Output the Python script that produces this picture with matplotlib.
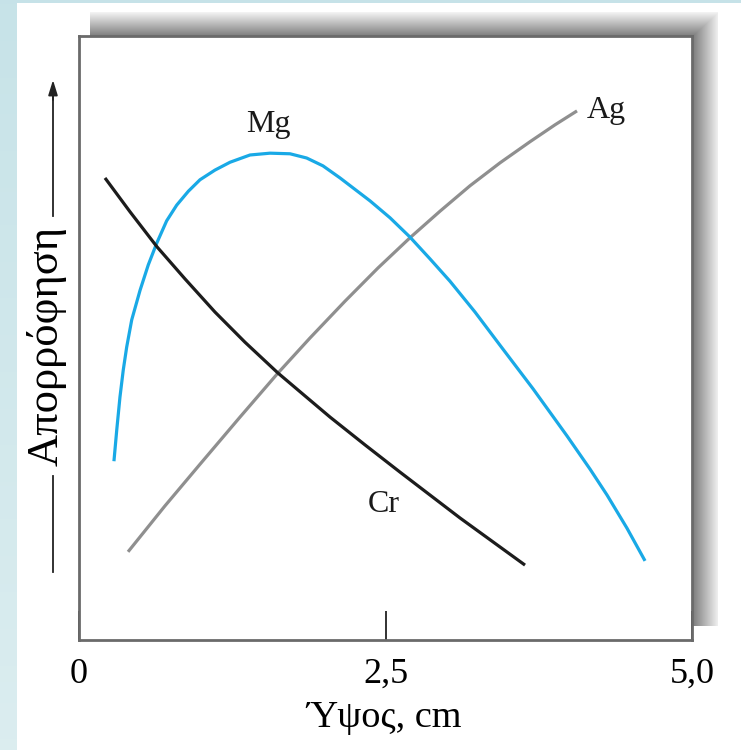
import numpy as np
import matplotlib
matplotlib.use("Agg")
import matplotlib.pyplot as plt
from matplotlib.lines import Line2D

# ---------------- data ----------------
mg_x = [0.285, 0.308, 0.334, 0.361, 0.389, 0.430, 0.498, 0.565, 0.634, 0.715,
        0.797, 0.892, 0.987, 1.109, 1.232, 1.395, 1.558, 1.721, 1.857, 1.990,
        2.129, 2.374, 2.537, 2.700, 2.863, 3.026, 3.230, 3.434, 3.703, 3.980,
        4.168, 4.307, 4.470, 4.617]
mg_y = [0.296, 0.348, 0.402, 0.447, 0.485, 0.530, 0.579, 0.621, 0.657, 0.694,
        0.720, 0.743, 0.762, 0.778, 0.791, 0.803, 0.806, 0.805, 0.798, 0.785,
        0.765, 0.727, 0.699, 0.667, 0.631, 0.594, 0.543, 0.488, 0.416, 0.338,
        0.283, 0.240, 0.185, 0.131]

cr_x = [0.212, 0.416, 0.636, 0.864, 1.109, 1.354, 1.623, 1.844, 2.048,
        2.333, 2.618, 3.108, 3.638]
cr_y = [0.765, 0.709, 0.651, 0.598, 0.543, 0.493, 0.442, 0.404, 0.369,
        0.323, 0.278, 0.202, 0.124]

ag_x = [0.400, 0.701, 0.987, 1.313, 1.623, 1.884, 2.170, 2.439, 2.700,
        2.945, 3.189, 3.434, 3.679, 3.883, 4.062]
ag_y = [0.146, 0.222, 0.291, 0.369, 0.442, 0.500, 0.561, 0.616, 0.666,
        0.710, 0.752, 0.790, 0.825, 0.853, 0.876]

xticks = [0.0, 2.5, 5.0]
xtick_labels = ["0", "2,5", "5,0"]
xlabel = "Ύψος, cm"
ylabel = "Απορρόφηση"

# ---------------- figure ----------------
W, H = 741, 750
fig = plt.figure(figsize=(W / 100, H / 100), dpi=100)
fig.patch.set_facecolor("white")

def fx(px):
    return px / W

def fy(py):
    return 1 - py / H

# background decoration: blue edge strips + drop shadow
img = np.ones((H, W, 3))
yy, xx = np.mgrid[0:H, 0:W]
strip_top = np.array([0.78, 0.89, 0.91])
strip_bot = np.array([0.86, 0.93, 0.94])
t = (yy[:, :17] / H)[..., None]
img[:, :17] = strip_top * (1 - t) + strip_bot * t
img[:3, :] = strip_top
L, T, R, B = 79, 36, 692, 640
sL, sT, sR, sB = 90, 12, 718, 626
in_sh = (xx >= sL) & (xx < sR) & (yy >= sT) & (yy < sB)
dx = np.clip((xx - R) / (sR - R), 0, 1)
dy = np.clip((T - yy) / (T - sT), 0, 1)
d = np.maximum(dx, dy)
shade = 0.48 + 0.47 * d
mask = in_sh & ~((xx < R) & (yy >= T))
for c in range(3):
    ch = img[..., c]
    ch[mask] = shade[mask]
bg = fig.add_axes([0, 0, 1, 1], zorder=-5)
bg.imshow(img, extent=(0, W, H, 0), aspect="auto", interpolation="bilinear")
bg.set_xlim(0, W)
bg.set_ylim(H, 0)
bg.axis("off")

ax = fig.add_axes([fx(L), fy(B), fx(R) - fx(L), fy(T) - fy(B)], zorder=1)
ax.set_facecolor("white")

serif = ["Liberation Serif", "DejaVu Serif"]

kw = dict(lw=2.3, solid_capstyle="butt", solid_joinstyle="round")
ax.plot(mg_x, mg_y, color="#19a9e6", zorder=3, **kw)
ax.plot(cr_x, cr_y, color="#1c1c1c", zorder=4, **kw)
ax.plot(ag_x, ag_y, color="#8f8f8f", zorder=2, **kw)

ax.text(1.542, 0.853, "Mg", fontsize=23, family=serif, ha="center", va="center", color="#1a1a1a")
ax.text(2.488, 0.224, "Cr", fontsize=23, family=serif, ha="center", va="center", color="#1a1a1a")
ax.text(4.144, 0.877, "Ag", fontsize=23, family=serif, ha="left", va="center", color="#1a1a1a")

ax.set_xlim(0, 5.0)
ax.set_ylim(0, 1.0)
ax.set_xticks(xticks)
ax.set_xticklabels(xtick_labels, family=serif, fontsize=26)
ax.tick_params(axis="x", direction="in", length=21, width=1.3, color="#222222", pad=13)
ax.set_yticks([])
for s in ax.spines.values():
    s.set_color("#6a6a6a")
    s.set_linewidth(2.0)

fig.text(fx(384), fy(718), xlabel, fontsize=27.5, family=serif, ha="center", va="center")

# y label with broken arrow
fig.text(fx(47), fy(346), ylabel, fontsize=32, family=serif, rotation=90,
         ha="center", va="center")
fig.add_artist(Line2D([fx(53), fx(53)], [fy(572), fy(476)], transform=fig.transFigure,
                      color="#222222", lw=1.3))
fig.add_artist(Line2D([fx(53), fx(53)], [fy(216), fy(95)], transform=fig.transFigure,
                      color="#222222", lw=1.3))
ax.annotate("", xy=(fx(53), fy(80)), xytext=(fx(53), fy(100)),
            xycoords=fig.transFigure, textcoords=fig.transFigure,
            arrowprops=dict(arrowstyle="-|>,head_length=0.9,head_width=0.28",
                            color="#222222", lw=1.3, shrinkA=0, shrinkB=0),
            annotation_clip=False)

fig.savefig("out.png", dpi=100)
